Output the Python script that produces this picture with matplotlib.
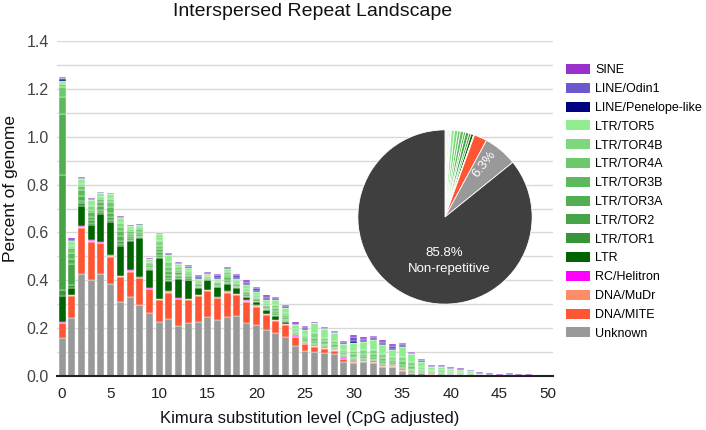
import numpy as np
import matplotlib.pyplot as plt
from matplotlib.patches import Patch

plt.rcParams['font.family'] = ['Liberation Sans', 'DejaVu Sans']

# Kimura substitution level (one bar per integer)
kimura = list(range(51))

# series values (percent of genome), bottom to top
unknown = [0.16, 0.243, 0.425, 0.403, 0.428, 0.386, 0.31, 0.33, 0.296, 0.265,
           0.226, 0.24, 0.21, 0.222, 0.224, 0.245, 0.233, 0.245, 0.25, 0.222,
           0.215, 0.194, 0.178, 0.161, 0.125, 0.105, 0.101, 0.097, 0.092, 0.06,
           0.053, 0.057, 0.053, 0.036, 0.036, 0.022, 0.011, 0.011, 0.005, 0.004,
           0.008, 0.002, 0.002, 0, 0, 0, 0, 0, 0, 0, 0]
dna_mite = [0.06, 0.091, 0.195, 0.158, 0.126, 0.112, 0.104, 0.106, 0.112, 0.097,
            0.091, 0.108, 0.11, 0.095, 0.11, 0.11, 0.091, 0.103, 0.088, 0.089,
            0.075, 0.061, 0.052, 0.054, 0.038, 0.027, 0.021, 0.017, 0.013, 0.011,
            0.006, 0.004, 0.005, 0.004, 0.003, 0.004, 0.002, 0.002, 0.002, 0.001,
            0.001, 0.001, 0, 0, 0, 0, 0, 0, 0, 0, 0]
dna_mudr = [0.003] * 23 + [0.002] * 7 + [0.001] * 7 + [0] * 14
rc_helitron = [0.003] * 23 + [0.002] * 5 + [0.001] * 6 + [0] * 17
ltr = [0.108, 0.028, 0.086, 0.065, 0.118, 0.139, 0.122, 0.122, 0.162, 0.074,
       0.17, 0.042, 0.081, 0.077, 0.028, 0.039, 0.042, 0.032, 0.024, 0.013,
       0.014, 0.014, 0.014, 0.007, 0.005, 0.004, 0.004, 0.003, 0.002, 0.006,
       0.005, 0.004, 0.004, 0.004, 0.004, 0.003, 0.002, 0.002, 0.002, 0.002,
       0.001, 0.002, 0.001, 0.001, 0, 0, 0, 0, 0, 0, 0]
ltr_tor1 = [0.025, 0.012, 0.01, 0.008, 0.008, 0.01, 0.01, 0.005, 0.004, 0.004,
            0.006, 0.005, 0.004, 0.003, 0.002, 0.002, 0.002, 0.003, 0.002, 0.002,
            0.002, 0.002, 0.003, 0.002, 0.001, 0.001, 0.001, 0.001, 0.001, 0.001,
            0.001, 0.001, 0.001, 0.001, 0.001, 0.001, 0.001, 0.001, 0, 0,
            0, 0, 0, 0, 0, 0, 0, 0, 0, 0, 0]
ltr_tor2 = [0.48, 0.09, 0.01, 0.01, 0.008, 0.01, 0.012, 0.006, 0.005, 0.004,
            0.008, 0.01, 0.005, 0.005, 0.003, 0.002, 0.003, 0.005, 0.003, 0.004,
            0.003, 0.003, 0.004, 0.004, 0.002, 0.002, 0.003, 0.002, 0.002, 0.002,
            0.002, 0.002, 0.002, 0.002, 0.002, 0.002, 0.002, 0.001, 0.001, 0.001,
            0.001, 0.001, 0, 0, 0, 0, 0, 0, 0, 0, 0]
ltr_tor3a = [0.257, 0.02, 0.02, 0.015, 0.015, 0.02, 0.02, 0.01, 0.008, 0.006,
             0.012, 0.012, 0.008, 0.008, 0.005, 0.004, 0.005, 0.008, 0.005, 0.006,
             0.005, 0.005, 0.008, 0.006, 0.004, 0.005, 0.006, 0.005, 0.004, 0.004,
             0.005, 0.005, 0.006, 0.006, 0.004, 0.006, 0.005, 0.003, 0.002, 0.002,
             0.001, 0.001, 0.001, 0, 0, 0, 0, 0, 0, 0, 0]
ltr_tor3b = [0.07, 0.025, 0.025, 0.02, 0.02, 0.025, 0.02, 0.01, 0.01, 0.008,
             0.01, 0.014, 0.01, 0.008, 0.006, 0.004, 0.005, 0.01, 0.006, 0.007,
             0.006, 0.006, 0.008, 0.007, 0.004, 0.005, 0.008, 0.006, 0.006, 0.005,
             0.006, 0.007, 0.008, 0.008, 0.006, 0.009, 0.007, 0.004, 0.003, 0.003,
             0.002, 0.002, 0.002, 0.001, 0, 0, 0, 0, 0, 0, 0]
ltr_tor4a = [0.04, 0.02, 0.015, 0.01, 0.01, 0.018, 0.02, 0.01, 0.01, 0.008,
             0.015, 0.02, 0.01, 0.008, 0.006, 0.004, 0.005, 0.01, 0.006, 0.008,
             0.006, 0.006, 0.01, 0.01, 0.006, 0.008, 0.012, 0.01, 0.01, 0.008,
             0.01, 0.011, 0.012, 0.012, 0.009, 0.013, 0.011, 0.006, 0.004, 0.004,
             0.003, 0.003, 0.003, 0.001, 0.001, 0, 0, 0, 0, 0, 0]
ltr_tor4b = [0.016, 0.01, 0.011, 0.016, 0.01, 0.015, 0.017, 0.008, 0.008, 0.0055,
             0.02, 0.02, 0.01, 0.008, 0.007, 0.004, 0.005, 0.012, 0.007, 0.008,
             0.007, 0.007, 0.012, 0.01, 0.0075, 0.01, 0.02, 0.015, 0.013, 0.01,
             0.014, 0.015, 0.017, 0.016, 0.012, 0.018, 0.015, 0.009, 0.005, 0.006,
             0.004, 0.005, 0.003, 0.002, 0.001, 0.001, 0.001, 0, 0, 0, 0]
ltr_tor5 = [0.01, 0.02, 0.02, 0.025, 0.015, 0.02, 0.02, 0.012, 0.012, 0.01,
            0.03, 0.03, 0.015, 0.013, 0.01, 0.008, 0.01, 0.015, 0.01, 0.014,
            0.012, 0.015, 0.022, 0.02, 0.016, 0.023, 0.04, 0.035, 0.032, 0.023,
            0.032, 0.035, 0.04, 0.038, 0.03, 0.043, 0.035, 0.021, 0.012, 0.015,
            0.009, 0.01, 0.008, 0.003, 0.001, 0.001, 0.001, 0.001, 0.001, 0, 0]
line_penelope = [0.008, 0.002, 0.001, 0.001, 0.001, 0.001, 0.001, 0.001, 0.001, 0.0005,
                 0.001, 0.001, 0.001, 0.002, 0.002, 0.001, 0.004, 0.001, 0.004, 0.004,
                 0.004, 0.003, 0.002, 0.001, 0.0015, 0.002, 0.001, 0.001, 0.0015, 0.002,
                 0.012, 0.003, 0.003, 0.004, 0.004, 0.003, 0.001, 0.001, 0.001, 0.001,
                 0.001, 0.001, 0.001, 0.001, 0.003, 0, 0.004, 0, 0, 0, 0]
line_odin1 = [0.005, 0.003, 0.002, 0.002, 0.002, 0.001, 0.002, 0.001, 0.001, 0.002,
              0.001, 0.001, 0.003, 0.004, 0.007, 0.003, 0.011, 0.002, 0.011, 0.011,
              0.011, 0.01, 0.006, 0.005, 0.005, 0.007, 0.002, 0.005, 0.004, 0.007,
              0.015, 0.009, 0.008, 0.01, 0.013, 0.008, 0.004, 0.004, 0.004, 0.003,
              0.002, 0.002, 0.002, 0.003, 0.002, 0.002, 0.002, 0.002, 0.002, 0.002, 0.001]
sine = [0.005, 0.005, 0.004, 0.003, 0.003, 0.003, 0.003, 0.003, 0.002, 0.002,
        0.002, 0.003, 0.003, 0.004, 0.005, 0.003, 0.006, 0.003, 0.006, 0.006,
        0.006, 0.006, 0.005, 0.005, 0.005, 0.005, 0.003, 0.004, 0.004, 0.005,
        0.008, 0.006, 0.006, 0.007, 0.008, 0.006, 0.004, 0.004, 0.004, 0.003,
        0.003, 0.003, 0.003, 0.004, 0.003, 0.003, 0.003, 0.004, 0.004, 0.004, 0.002]

series_names = ['Unknown', 'DNA/MITE', 'DNA/MuDr', 'RC/Helitron', 'LTR', 'LTR/TOR1',
                'LTR/TOR2', 'LTR/TOR3A', 'LTR/TOR3B', 'LTR/TOR4A', 'LTR/TOR4B',
                'LTR/TOR5', 'LINE/Penelope-like', 'LINE/Odin1', 'SINE']
series_vals = [unknown, dna_mite, dna_mudr, rc_helitron, ltr, ltr_tor1, ltr_tor2,
               ltr_tor3a, ltr_tor3b, ltr_tor4a, ltr_tor4b, ltr_tor5,
               line_penelope, line_odin1, sine]
colors = ['#999999', '#ff5533', '#ff8c69', '#ff00ff', '#006400', '#379537',
          '#46a346', '#51af51', '#5cba5c', '#6bc86b', '#7dd87d', '#90ee90',
          '#000080', '#6a5acd', '#9932cc']

# genome-wide summary for the pie (percent)
pie_names = ['Other', 'Simple', 'SINE', 'LINE/Odin1', 'LINE/Penelope-like',
             'LTR/TOR5', 'LTR/TOR4B', 'LTR/TOR4A', 'LTR/TOR3B', 'LTR/TOR3A',
             'LTR/TOR2', 'LTR/TOR1', 'LTR', 'RC/Helitron', 'DNA/MuDr',
             'DNA/MITE', 'Unknown', 'Non-repetitive']
pie_vals = [0.4, 0.3, 0.15, 0.2, 0.1, 0.6, 0.6, 0.5, 0.6, 0.4, 0.6, 0.4, 0.5,
            0.05, 0.1, 2.4, 6.3, 85.8]
pie_colors = ['#e8e8e8', '#ffff66', '#9932cc', '#6a5acd', '#000080', '#90ee90',
              '#7dd87d', '#6bc86b', '#5cba5c', '#51af51', '#46a346', '#379537',
              '#006400', '#ff00ff', '#ff8c69', '#ff5533', '#999999', '#3f3f3f']

fig = plt.figure(figsize=(7.06, 4.30), dpi=100)
ax = fig.add_axes([57 / 706, 54 / 430, 496 / 706, 335 / 430])

x = np.array(kimura)
bottom = np.zeros(len(kimura))
for name, vals, c in zip(series_names, series_vals, colors):
    vals = np.array(vals, dtype=float)
    m = vals > 0
    ax.bar(x[m], vals[m], bottom=bottom[m], width=0.72, color=c, edgecolor='white',
           linewidth=0.3, label=name, zorder=2)
    bottom += vals

ax.set_xlim(-0.52, 50.52)
ax.set_ylim(0, 1.4)
ax.set_xticks(range(0, 51, 5))
ax.set_yticks(np.arange(0, 1.41, 0.2))
ax.set_yticks(np.arange(0, 1.41, 0.1), minor=True)
ax.set_yticklabels([f'{v:.1f}' for v in np.arange(0, 1.41, 0.2)])
ax.grid(axis='y', which='both', color='#d8d8d8', linewidth=1, zorder=0)
ax.tick_params(axis='x', length=0, labelsize=11, colors='#222222', pad=8)
ax.tick_params(axis='y', which='both', length=0, labelsize=11.5, colors='#444444', pad=6)
for s in ['top', 'right', 'left']:
    ax.spines[s].set_visible(False)
ax.spines['bottom'].set_color('#222222')
ax.spines['bottom'].set_linewidth(1.5)
ax.spines['bottom'].set_zorder(3)

fig.text(313 / 706, 1 - 11 / 430, 'Interspersed Repeat Landscape', ha='center',
         va='center', fontsize=14, color='#111111')
fig.text(310 / 706, 1 - 418 / 430, 'Kimura substitution level (CpG adjusted)',
         ha='center', va='center', fontsize=12, color='#111111')
fig.text(11 / 706, 1 - 188 / 430, 'Percent of genome', ha='center', va='center',
         rotation=90, fontsize=12.5, color='#111111')

# pie inset
pax = fig.add_axes([357 / 706, 1 - 305 / 430, 176 / 706, 176 / 430])
pax.pie(pie_vals, colors=pie_colors, startangle=90, counterclock=False,
        wedgeprops=dict(edgecolor='white', linewidth=0.6))
pax.set_xlim(-1.01, 1.01)
pax.set_ylim(-1.01, 1.01)
pax.set_aspect('equal')
pax.text(-0.01, -0.41, '85.8%', ha='center', va='center', color='white', fontsize=9.5)
pax.text(0.05, -0.6, 'Non-repetitive', ha='center', va='center', color='white', fontsize=9.5)
pax.text(0.45, 0.61, '6.3%', ha='center', va='center', color='white', fontsize=9.5,
         rotation=52)

handles = [Patch(facecolor=c, edgecolor='none') for c in colors][::-1]
labels = series_names[::-1]
fig.legend(handles, labels, loc='upper left', bbox_to_anchor=(566 / 706, 1 - 64 / 430),
           frameon=False, fontsize=9, handlelength=1.9, handleheight=0.85,
           handletextpad=0.45, labelspacing=0.52, borderpad=0, borderaxespad=0)

fig.savefig('out.png', dpi=100)
